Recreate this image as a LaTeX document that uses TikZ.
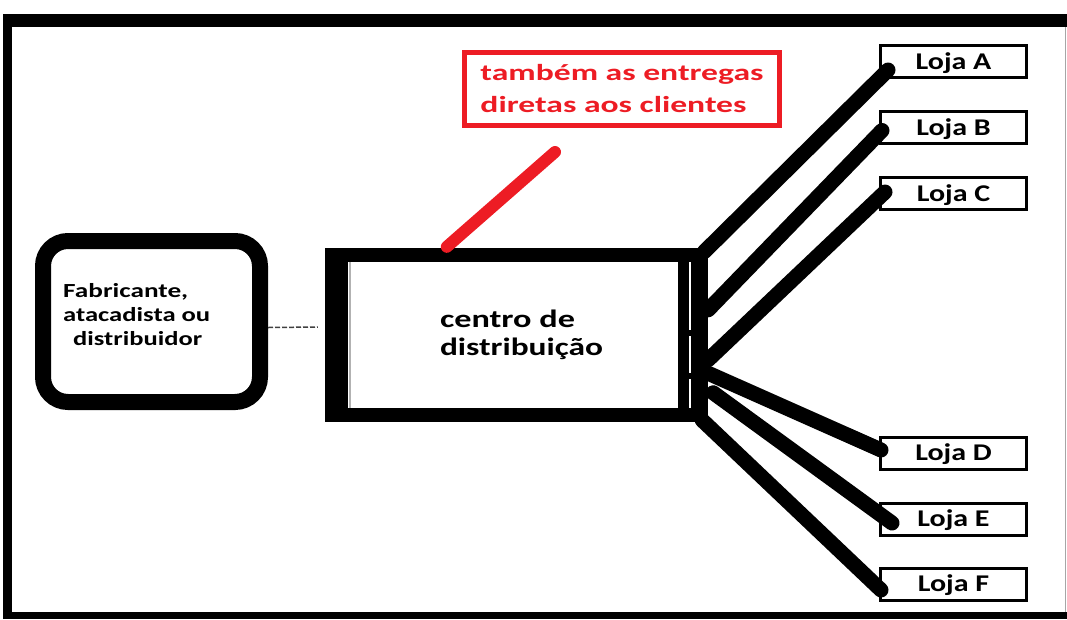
\documentclass[tikz,border=0pt]{standalone}
\usepackage{fontspec}
\setmainfont{Carlito}
\usetikzlibrary{calc,backgrounds}
\definecolor{pred}{RGB}{237,28,36}
\newcommand{\wl}[2]{\resizebox{#1pt}{\height}{#2}}
\begin{document}
\begin{tikzpicture}[x=1pt,y=-1pt,
  lojabox/.style={draw, line width=3pt, minimum width=146pt, minimum height=32pt, inner sep=0pt,
    text height=15.5pt, text depth=0pt, font=\fontsize{24}{28}\selectfont\bfseries},
  link/.style={line width=15pt, line cap=round},
  redlink/.style={pred, line width=12pt, line cap=round},
  feed/.style={black!75, line width=1.5pt, dash pattern=on 5pt off 2pt}]
\useasboundingbox (0,0) rectangle (1067,619);
% outer frame
\fill[black] (3,14) rectangle (1067,27);
\fill[black] (3,14) rectangle (12,619);
\fill[black] (3,612) rectangle (1067,619);
\draw[gray!70, line width=1pt] (1065,27) -- (1065,612);
% supplier
\node[draw, line width=16pt, rounded corners=25pt, minimum width=217pt, minimum height=161pt] (fab) at (151.5,321.5) {};
\node[anchor=north west, inner sep=0pt, align=left, font=\fontsize{20}{24}\selectfont\bfseries] (fabtext) at (63,283)
  {\wl{125}{Fabricante,}\\\wl{147}{atacadista ou}\\\hspace*{10pt}\wl{129}{distribuidor}};
% distribution centre
\node[minimum width=383pt, minimum height=174pt, inner sep=0pt, align=left, font=\fontsize{25}{28}\selectfont\bfseries] (cd) at (516.5,335)
  {\hspace*{10pt}\wl{135}{centro de}\\\hspace*{10pt}\wl{163}{distribuição}};
\begin{scope}[on background layer]
  \fill[black] (cd.north west) rectangle (cd.south east);
  \fill[white] ($(cd.north west)+(23,14)$) rectangle ($(cd.south east)+(-30,-14)$);
  \fill[white] (689,262) rectangle (691,330);
  \fill[white] (689,336) rectangle (691,373);
  \fill[white] (689,379) rectangle (691,408);
  \draw[gray!60, line width=1.2pt] (350,262) -- (350,408);
\end{scope}
% note
\node[draw=pred, line width=5pt, minimum width=315pt, minimum height=73pt, inner sep=0pt, align=left, text=pred,
  font=\fontsize{23}{32}\selectfont\bfseries] (note) at (622,89)
  {\wl{283}{também as entregas}\\\wl{266}{diretas aos clientes}};
% stores
\node[lojabox] (lA) at (953.5,61.5) {\scalebox{1.25}[1]{Loja A}};
\node[lojabox] (lB) at (953.5,127.5) {\scalebox{1.25}[1]{Loja B}};
\node[lojabox] (lC) at (953.5,193.5) {\scalebox{1.25}[1]{Loja C}};
\node[lojabox] (lD) at (953.5,453) {\scalebox{1.25}[1]{Loja D}};
\node[lojabox] (lE) at (953.5,519) {\scalebox{1.25}[1]{Loja E}};
\node[lojabox] (lF) at (953.5,584) {\scalebox{1.25}[1]{Loja F}};
% connectors
\draw[feed] ($(fab.east)+(0,6)$) -- ($(cd.west)+(-7,-8)$);
\draw[link] ($(cd.north east)+(-4,4)$) -- ($(lA.west)+(9,8.5)$);
\draw[link] ($(cd.north east)+(0,62)$) -- ($(lB.west)+(3,3)$);
\draw[link] ($(cd.north east)+(0,112)$) -- ($(lC.west)+(6,-1.5)$);
\draw[link] ($(cd.north east)+(-1,125)$) -- ($(lD.west)+(2,-3)$);
\draw[link] ($(cd.north east)+(5,145)$) -- ($(lE.west)+(13,4)$);
\draw[link] ($(cd.south east)+(-6,-2)$) -- ($(lF.west)+(2,6)$);
\coordinate (rtip) at (555,152);
\draw[redlink] ($(cd.north west)+(122,-1)$) -- (rtip);
\end{tikzpicture}
\end{document}
